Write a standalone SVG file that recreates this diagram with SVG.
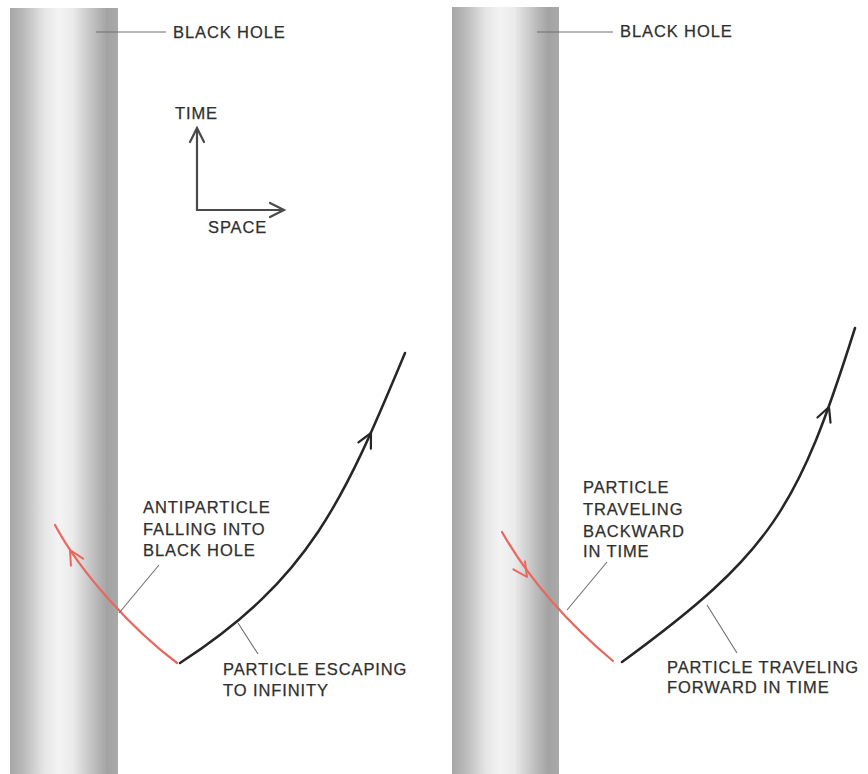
<svg xmlns="http://www.w3.org/2000/svg" xmlns:xlink="http://www.w3.org/1999/xlink" width="868" height="774" viewBox="0 0 868 774">
<style>
  .lbl { font-family: "Liberation Sans", Arial, sans-serif; font-size: 16.5px; letter-spacing: 0.9px; fill: #2f2f2f; stroke: #2f2f2f; stroke-width: 0.25; }
  .leader { stroke: #6e6e6e; stroke-width: 1.1; fill: none; }
  .world { stroke: #262626; stroke-width: 2.5; fill: none; stroke-linecap: round; }
  .anti { stroke: #e8675e; stroke-width: 2.2; fill: none; stroke-linecap: round; }
  .axis { stroke: #4a4a4a; stroke-width: 2.2; fill: none; }
  .chev-w { stroke: #262626; stroke-width: 2.2; fill: none; stroke-linecap: round; stroke-linejoin: round; }
  .chev-a { stroke: #e8675e; stroke-width: 2; fill: none; stroke-linecap: round; stroke-linejoin: round; }
  .chev-x { stroke: #4a4a4a; stroke-width: 2.2; fill: none; stroke-linecap: round; stroke-linejoin: miter; }
</style>
<defs>
  <linearGradient id="hole" x1="0" y1="0" x2="1" y2="0">
    <stop offset="0" stop-color="#a6a6a6"/>
    <stop offset="0.12" stop-color="#b9b9b9"/>
    <stop offset="0.32" stop-color="#e6e6e6"/>
    <stop offset="0.45" stop-color="#f3f3f3"/>
    <stop offset="0.58" stop-color="#ebebeb"/>
    <stop offset="0.75" stop-color="#c4c4c4"/>
    <stop offset="0.9" stop-color="#a3a3a3"/>
    <stop offset="1" stop-color="#a9a9a9"/>
  </linearGradient>
  <path id="chev" d="M-14,-7 L0,0 L-14,7"/>
</defs>
<rect width="868" height="774" fill="#ffffff"/>

<g id="blackhole-left">
  <rect x="10" y="8" width="108" height="766" fill="url(#hole)"/>
</g>
<g id="blackhole-right">
  <rect x="452" y="7" width="107" height="767" fill="url(#hole)"/>
</g>

<g id="axes">
  <path class="axis" d="M197,129 L197,210 L283,210"/>
  <use href="#chev" class="chev-x" transform="translate(197,128) rotate(-90)"/>
  <use href="#chev" class="chev-x" transform="translate(284,210)"/>
  <text class="lbl" x="175" y="119">TIME</text>
  <text class="lbl" x="208" y="233">SPACE</text>
</g>

<g id="connectors">
  <!-- left panel -->
  <path class="world" d="M180,663 C310,578.5 343.4,500.7 405,353"/>
  <use href="#chev" class="chev-w" transform="translate(371,433) rotate(-63)"/>
  <path class="anti" d="M55,525 C80.9,573.4 133,630 177,663"/>
  <use href="#chev" class="chev-a" transform="translate(70,550) rotate(-120)"/>
  <line class="leader" x1="96" y1="32" x2="166" y2="32"/>
  <line class="leader" x1="119" y1="613" x2="159" y2="565"/>
  <line class="leader" x1="238" y1="623" x2="258" y2="654"/>
  <!-- right panel -->
  <path class="world" d="M622,662 C772,552.5 798,508.5 855,328"/>
  <use href="#chev" class="chev-w" transform="translate(829,407) rotate(-69)"/>
  <path class="anti" d="M502,532 C529,580 570.6,625.8 613,661"/>
  <use href="#chev" class="chev-a" transform="translate(527,577) rotate(56)"/>
  <line class="leader" x1="537" y1="32" x2="613" y2="32"/>
  <line class="leader" x1="567" y1="610" x2="607" y2="562"/>
  <line class="leader" x1="707" y1="605" x2="737" y2="653"/>
</g>

<g id="label-blackhole-left">
  <text class="lbl" x="173" y="38">BLACK HOLE</text>
</g>
<g id="label-antiparticle">
  <text class="lbl" x="143" y="513">ANTIPARTICLE</text>
  <text class="lbl" x="143" y="535">FALLING INTO</text>
  <text class="lbl" x="143" y="556">BLACK HOLE</text>
</g>
<g id="label-escaping">
  <text class="lbl" x="223" y="675">PARTICLE ESCAPING</text>
  <text class="lbl" x="223" y="696">TO INFINITY</text>
</g>
<g id="label-blackhole-right">
  <text class="lbl" x="620" y="37">BLACK HOLE</text>
</g>
<g id="label-backward">
  <text class="lbl" x="583" y="493">PARTICLE</text>
  <text class="lbl" x="583" y="515">TRAVELING</text>
  <text class="lbl" x="583" y="537">BACKWARD</text>
  <text class="lbl" x="583" y="557">IN TIME</text>
</g>
<g id="label-forward">
  <text class="lbl" x="667" y="673">PARTICLE TRAVELING</text>
  <text class="lbl" x="667" y="693">FORWARD IN TIME</text>
</g>
</svg>
